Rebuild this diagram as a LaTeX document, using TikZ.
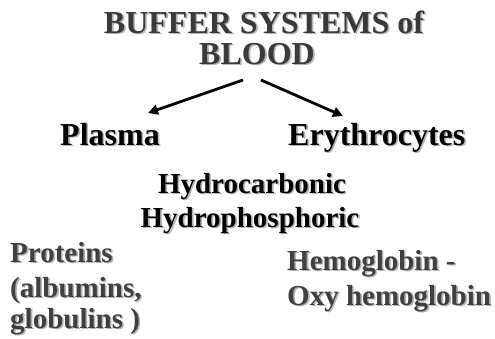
\documentclass[tikz,border=0pt]{standalone}
\usepackage{fontspec}
\setmainfont{Liberation Serif}
\usetikzlibrary{arrows.meta}
\definecolor{titlec}{HTML}{3A3A3A}
\definecolor{greyc}{HTML}{404040}
\definecolor{shadowc}{HTML}{B4B4B4}
\tikzset{
  lbl/.style={inner sep=0pt, font=\bfseries},
  big/.style={lbl, font=\bfseries\fontsize{32}{32}\selectfont},
  mid/.style={lbl, font=\bfseries\fontsize{29}{29}\selectfont},
  arr/.style={line width=2.8pt, -{Triangle[length=10pt,width=10pt]}}
}
\newcommand\shtxt[1]{\rlap{\hspace{1.6pt}\raisebox{-1.6pt}{\textcolor{shadowc}{#1}}}#1}
\begin{document}
\begin{tikzpicture}[x=1pt,y=-1pt]
\useasboundingbox[fill=white] (0,0) rectangle (495,338);
\node[big,anchor=base,text=titlec] (title1) at (264,33) {\shtxt{BUFFER SYSTEMS of}};
\node[big,anchor=base,text=titlec] (title2) at (257,64) {\shtxt{BLOOD}};
\node[big,anchor=base west,text=black] (plasma) at (60,145) {\shtxt{Plasma}};
\node[big,anchor=base west,text=black] (ery) at (288,145) {\shtxt{Erythrocytes}};
\node[mid,anchor=base,text=black] (hc) at (252,193) {\shtxt{Hydrocarbonic}};
\node[mid,anchor=base,text=black] (hp) at (250,227) {\shtxt{Hydrophosphoric}};
\node[mid,anchor=base west,text=greyc] (prot1) at (10,262) {\shtxt{Proteins}};
\node[mid,anchor=base west,text=greyc] (prot2) at (10,297) {\shtxt{(albumins,}};
\node[mid,anchor=base west,text=greyc] (prot3) at (10,328) {\shtxt{globulins )}};
\node[mid,anchor=base west,text=greyc] (hem1) at (287,270) {\shtxt{Hemoglobin -}};
\node[mid,anchor=base west,text=greyc] (hem2) at (287,305) {\shtxt{Oxy hemoglobin}};
\coordinate (la) at (243,80);
\coordinate (lb) at (148,113);
\coordinate (ra) at (261,80);
\coordinate (rb) at (343,116);
\draw[arr] (la) -- (lb);
\draw[arr] (ra) -- (rb);
\end{tikzpicture}
\end{document}
